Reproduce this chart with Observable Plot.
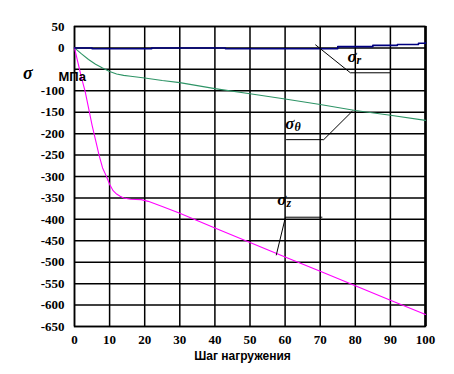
<!DOCTYPE html>
<html>
<head>
<meta charset="utf-8">
<script src="https://cdn.jsdelivr.net/npm/d3@7"></script>
<script src="https://cdn.jsdelivr.net/npm/@observablehq/plot@0.6"></script>
<style>
  html, body { margin: 0; padding: 0; background: #fff; }
  #chart svg { display: block; }
</style>
</head>
<body>
<div id="chart"></div>
<script>
// Tick values
const xTicks = [0, 10, 20, 30, 40, 50, 60, 70, 80, 90, 100];
const yGrid = [50, 0, -50, -100, -150, -200, -250, -300, -350, -400, -450, -500, -550, -600, -650];
const yTickLabels = [50, 0, -100, -150, -200, -250, -300, -350, -400, -450, -500, -550, -600, -650];

// σ_r (radial stress)
const stepsR = [0, 5, 22, 43, 75, 85, 92, 98, 100];
const sigmaR = [0, -2, 0, -2, 3, 6, 8, 11, 12];

// σ_θ (hoop stress)
const stepsT = [0, 2, 4, 6, 8, 10, 12, 14, 16, 20, 25, 30, 40, 50, 60, 70, 80, 90, 100];
const sigmaT = [0, -14, -27, -38, -47, -55, -61, -64, -66, -70, -76, -81, -95, -107, -119, -132, -146, -157, -169];

// σ_z (axial stress)
const stepsZ = [0, 1, 2, 3, 4, 5, 6, 7, 8, 9, 10, 11, 12, 13, 14, 16, 19, 21, 25, 30, 40, 50, 60, 70, 80, 90, 100];
const sigmaZ = [0, -35, -70, -100, -140, -180, -215, -250, -280, -298, -318, -333, -341, -346, -350, -353, -354, -358, -370, -386, -420, -454, -488, -521, -555, -589, -622];

// Series labels and their leader lines (data coordinates)
const labelNames = ["r", "θ", "z"];
const labelX = [79.8, 62.1, 59.8];
const labelY = [-20, -176, -354];
const leaderR = [[68.7, 7], [78.6, -58], [90, -58]];
const leaderT = [[79.1, -148], [71, -214], [60.4, -214]];
const leaderZ = [[57.5, -483], [60.1, -395], [70.5, -395]];

const xTitle = "Шаг нагружения";
const yUnit = "МПа";

const toRows = (xs, ys) => xs.map((x, i) => ({x, y: ys[i]}));
const rowsR = toRows(stepsR, sigmaR);
const rowsT = toRows(stepsT, sigmaT);
const rowsZ = toRows(stepsZ, sigmaZ);
const labels = labelNames.map((n, i) => ({name: n, x: labelX[i], y: labelY[i]}));
const leaders = [leaderR, leaderT, leaderZ].flatMap((pts, k) => pts.map(([x, y]) => ({k, x, y})));

const serif = "'Liberation Serif', 'Times New Roman', serif";
const sans = "'Liberation Sans', Arial, sans-serif";

const chart = Plot.plot({
  width: 454,
  height: 374,
  marginLeft: 74,
  marginRight: 29,
  marginTop: 26,
  marginBottom: 48,
  style: {background: "#fff", color: "#000"},
  x: {domain: [0, 100]},
  y: {domain: [-650, 50]},
  marks: [
    Plot.gridY(yGrid, {stroke: "#000", strokeOpacity: 1, strokeWidth: 1.5}),
    Plot.gridX(xTicks, {stroke: "#000", strokeOpacity: 1, strokeWidth: 1.5}),
    Plot.frame({stroke: "#000", strokeWidth: 1.5}),
    Plot.ruleX([100], {stroke: "#000", strokeWidth: 2.5}),
    Plot.line(rowsT, {x: "x", y: "y", stroke: "#2e9466", strokeWidth: 1.1, curve: "linear"}),
    Plot.line(rowsZ, {x: "x", y: "y", stroke: "#ff00ff", strokeWidth: 1.1, curve: "linear"}),
    Plot.line(rowsR, {x: "x", y: "y", stroke: "#000080", strokeWidth: 1.6, curve: "step-after"}),
    Plot.line(leaders, {x: "x", y: "y", z: "k", stroke: "#000", strokeWidth: 1}),
    Plot.text(labels, {x: "x", y: "y", text: () => "σ", fontFamily: serif, fontWeight: "bold", fontStyle: "italic", fontSize: 17, textAnchor: "end", dx: 2, fill: "#000"}),
    Plot.text(labels, {x: "x", y: "y", text: "name", fontFamily: serif, fontWeight: "bold", fontStyle: "italic", fontSize: 12, textAnchor: "start", dx: 2, dy: 4, fill: "#000"}),
    Plot.text(["σ"], {frameAnchor: "top-left", dx: -51.5, dy: 40, fontFamily: serif, fontWeight: "bold", fontStyle: "italic", fontSize: 18, fill: "#000"}),
    Plot.text([yUnit], {frameAnchor: "top-left", dx: -16, dy: 45, fontFamily: sans, fontWeight: "bold", fontSize: 13, fill: "#000"}),
    Plot.text([xTitle], {frameAnchor: "bottom", dx: -7.5, dy: 33, fontFamily: sans, fontWeight: "bold", fontSize: 12, fill: "#000"}),
    Plot.axisX({ticks: xTicks, tickSize: 0, tickPadding: 8, tickFormat: d => String(d), fontFamily: serif, fontWeight: "bold", fontSize: 13, label: null}),
    Plot.axisY({ticks: yTickLabels, tickSize: 0, tickPadding: 10, tickFormat: d => (d < 0 ? "-" + Math.abs(d) : String(d)), fontFamily: serif, fontWeight: "bold", fontSize: 13, label: null})
  ]
});
// Force serif bold on the axis tick labels
d3.select(chart).selectAll('g[aria-label*="axis"], g[aria-label*="axis"] text')
  .attr("font-family", serif)
  .style("font-family", serif)
  .style("font-weight", "bold")
  .style("font-size", "13px");
document.getElementById("chart").appendChild(chart);
</script>
</body>
</html>
